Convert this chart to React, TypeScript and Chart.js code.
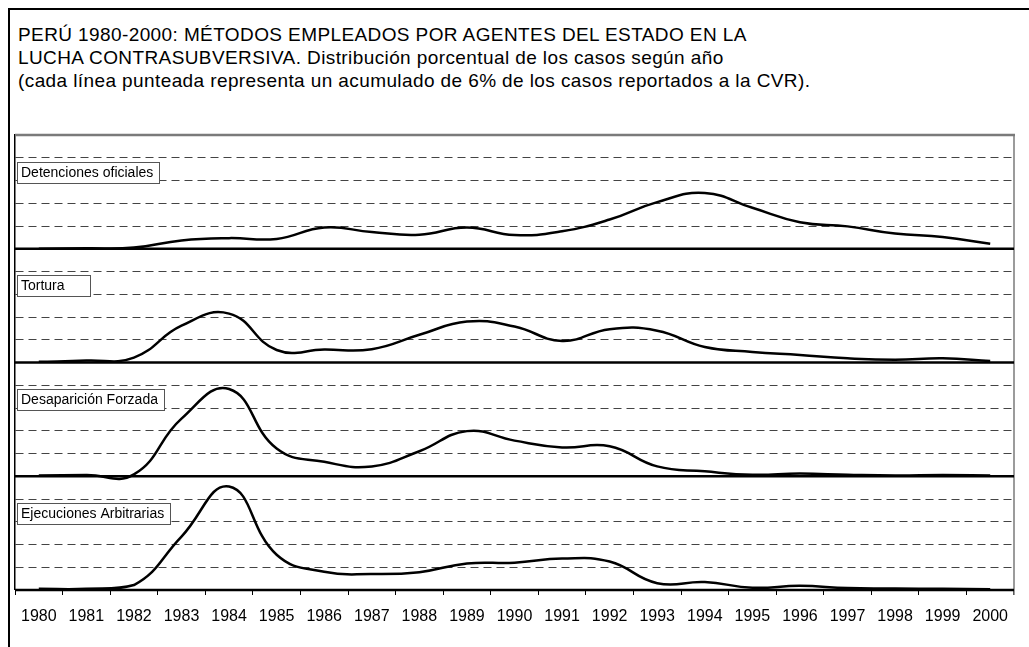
import React, { useEffect, useRef } from 'react';
import { Chart, registerables } from 'chart.js';

Chart.register(...registerables);

const FONT = '"Liberation Sans", Arial, sans-serif';

const years = ['1980', '1981', '1982', '1983', '1984', '1985', '1986', '1987', '1988', '1989', '1990',
  '1991', '1992', '1993', '1994', '1995', '1996', '1997', '1998', '1999', '2000'];

const detenciones = [0, 0.1, 0.3, 2.2, 2.8, 2.6, 5.6, 4.4, 3.7, 5.6, 3.6, 4.6, 7.7, 12.3, 14.7, 10.8, 7.0, 5.9, 4.0, 3.1, 1.3];
const tortura = [0.2, 0.5, 1.3, 9.7, 12.9, 3.3, 3.4, 3.5, 7.3, 10.8, 9.5, 5.7, 8.8, 8.4, 4.1, 2.8, 2.0, 1.1, 0.7, 1.1, 0.4];
const desaparicion = [0.2, 0.3, 0.5, 15.2, 23.0, 7.3, 3.8, 2.6, 6.6, 11.9, 9.4, 7.6, 7.9, 2.6, 1.3, 0.4, 0.7, 0.4, 0.2, 0.3, 0.2];
const ejecuciones = [0.3, 0.3, 1.3, 14.1, 27.3, 9.3, 4.8, 4.2, 4.7, 7.0, 7.2, 8.3, 7.5, 1.8, 2.1, 0.6, 1.1, 0.5, 0.4, 0.3, 0.2];

const panelLabels = ['Detenciones oficiales', 'Tortura', 'Desaparición Forzada', 'Ejecuciones Arbitrarias'];
const panelMax = 30;
const gridStep = 6;

const titleLines = [
  'PERÚ 1980-2000: MÉTODOS EMPLEADOS POR AGENTES DEL ESTADO EN LA',
  'LUCHA CONTRASUBVERSIVA. Distribución porcentual de los casos según año',
  '(cada línea punteada representa un acumulado de 6% de los casos reportados a la CVR).',
];

const axisIds = ['yDet', 'yTor', 'yDes', 'yEje'];

export default function App() {
  const ref = useRef<HTMLCanvasElement>(null);

  useEffect(() => {
    if (!ref.current) return;
    const series = [detenciones, tortura, desaparicion, ejecuciones];

    const scales: any = {
      x: {
        type: 'category',
        offset: true,
        grid: {
          display: true,
          drawOnChartArea: false,
          drawTicks: true,
          tickLength: 5,
          tickColor: '#000',
          tickWidth: 1,
          offset: true,
        },
        border: { display: false },
        ticks: {
          color: '#000',
          font: { family: FONT, size: 16 },
          padding: 12,
          maxRotation: 0,
          autoSkip: false,
        },
        afterFit: (s: any) => { s.height = 57; },
      },
    };

    axisIds.forEach((id, i) => {
      scales[id] = {
        type: 'linear',
        position: 'left',
        stack: 'panels',
        stackWeight: 1,
        weight: axisIds.length - i,
        min: 0,
        max: panelMax,
        ticks: { display: false, stepSize: gridStep },
        grid: {
          color: '#444',
          drawTicks: false,
          lineWidth: (c: any) => (c.tick && (c.tick.value === 0 || c.tick.value === panelMax)) ? 0 : 1,
        },
        border: { display: true, color: '#000', width: 1.5, dash: [8, 5] },
        afterFit: (s: any) => { s.width = 0; },
      };
    });

    const decor = {
      id: 'decor',
      beforeDatasetsDraw(chart: any) {
        const { ctx, chartArea: a } = chart;
        ctx.save();
        ctx.strokeStyle = '#7a7a7a';
        ctx.lineWidth = 2.5;
        ctx.beginPath();
        ctx.moveTo(a.left, a.top);
        ctx.lineTo(a.right + 1, a.top);
        ctx.stroke();
        ctx.lineWidth = 1.5;
        ctx.beginPath();
        ctx.moveTo(a.right, a.top);
        ctx.lineTo(a.right, a.bottom + 5);
        ctx.stroke();
        ctx.strokeStyle = '#000';
        ctx.lineWidth = 2.5;
        axisIds.forEach((id) => {
          const s = chart.scales[id];
          const y = s.getPixelForValue(0);
          ctx.beginPath();
          ctx.moveTo(a.left, y);
          ctx.lineTo(a.right, y);
          ctx.stroke();
        });
        ctx.restore();
      },
      afterDatasetsDraw(chart: any) {
        const { ctx, chartArea: a } = chart;
        ctx.save();
        ctx.font = '14px ' + FONT;
        axisIds.forEach((id, i) => {
          const s = chart.scales[id];
          const text = panelLabels[i];
          const w = ctx.measureText(text).width;
          const bw = Math.round(Math.max(w + 10, 73));
          const x = Math.round(a.left + 2);
          const y = Math.round(s.top + 26.5);
          const h = 21;
          ctx.fillStyle = '#fff';
          ctx.fillRect(x, y, bw, h);
          ctx.strokeStyle = '#555';
          ctx.lineWidth = 1;
          ctx.strokeRect(x + 0.5, y + 0.5, bw, h);
          ctx.fillStyle = '#000';
          ctx.textBaseline = 'middle';
          ctx.textAlign = 'left';
          ctx.fillText(text, x + 4, y + h / 2 + 1);
        });
        ctx.restore();
      },
    };

    const chart = new Chart(ref.current, {
      type: 'line',
      data: {
        labels: years,
        datasets: series.map((d, i) => ({
          label: panelLabels[i],
          data: d,
          yAxisID: axisIds[i],
          borderColor: '#000',
          borderWidth: 2.5,
          pointRadius: 0,
          pointHoverRadius: 0,
          tension: 0.45,
          fill: false,
          clip: false as any,
        })),
      },
      options: {
        responsive: false,
        animation: false,
        layout: { padding: { left: 15, right: 15, top: 135, bottom: 0 } },
        plugins: {
          legend: { display: false },
          tooltip: { enabled: false },
          title: { display: false },
        },
        events: [],
        scales,
      },
      plugins: [decor],
    });

    return () => chart.destroy();
  }, []);

  return (
    <>
      <div
        style={{
          position: 'fixed',
          left: 8,
          top: 8,
          width: 1021,
          height: 639,
          boxSizing: 'border-box',
          borderTop: '2px solid #000',
          borderLeft: '2px solid #000',
          background: '#fff',
        }}
      >
        <div
          style={{
            position: 'absolute',
            left: 8,
            top: 13,
            fontFamily: FONT,
            fontSize: 19,
            letterSpacing: '0.4px',
            lineHeight: '23px',
            color: '#000',
            whiteSpace: 'pre',
          }}
        >
          {titleLines.map((l) => (
            <div key={l}>{l}</div>
          ))}
        </div>
      </div>
      <canvas
        ref={ref}
        width={1029}
        height={647}
        style={{ position: 'fixed', left: 0, top: 0, width: 1029, height: 647 }}
      />
    </>
  );
}
